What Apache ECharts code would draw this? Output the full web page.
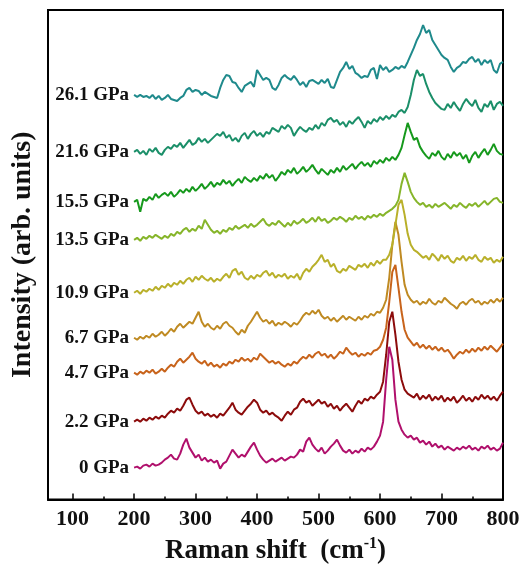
<!DOCTYPE html>
<html>
<head>
    <meta charset="UTF-8">
    <title>Raman spectra under pressure</title>
    <script src="https://cdn.jsdelivr.net/npm/echarts@6/dist/echarts.min.js"></script>
    <style>
        html, body { margin: 0; padding: 0; background: #fff; }
        #chart { width: 531px; height: 570px; }
    </style>
</head>
<body>
<div id="chart"></div>
<script>
    // Raman shift grid, 200 - 800 cm-1, 5 cm-1 step
    const shift = Array.from({ length: 121 }, (_, i) => 200 + 5 * i);

    // stacked spectra (arb. units, offsets included)
    const p0 = [32,33,31,34,35,33,36,34,35,37, 40,42,45,41,40,46,55,61,52,47, 42,45,39,42,38,40,37,39,31,36,
        38,44,50,46,42,45,43,48,53,57, 50,44,40,37,39,41,38,40,42,39, 41,43,42,45,50,48,58,62,55,51,
        48,52,46,49,53,56,60,54,49,47, 50,46,49,47,51,48,52,50,53,58, 64,78,120,153,140,100,78,70,65,62,
        64,60,62,57,59,55,58,53,56,52, 54,50,53,51,49,52,50,53,51,54, 50,52,49,53,51,54,50,52,49,51, 57];
    const p22 = [78,80,78,81,79,82,80,83,81,84, 82,86,89,87,91,89,94,100,102,95, 89,86,88,84,86,83,85,82,86,84,
        88,92,97,90,87,85,89,93,96,100, 97,90,87,89,85,87,84,82,79,84, 88,85,90,92,98,101,97,99,94,97,
        100,96,98,93,96,91,94,89,93,96, 92,88,94,99,96,101,99,103,101,105, 108,118,145,178,188,165,138,120,110,106,
        104,102,106,100,104,101,105,99,103,100, 104,98,102,99,103,97,100,104,99,102, 98,103,100,105,101,104,100,103,99,104, 108];
    const p47 = [127,125,128,126,129,127,130,126,128,131, 128,132,135,133,138,141,137,140,143,147, 141,138,136,139,134,137,133,135,132,136,
        134,138,136,140,138,142,139,141,138,142, 140,146,143,140,137,139,136,138,135,133, 136,134,138,136,140,143,141,145,142,146,
        148,144,146,142,145,141,144,148,146,152, 148,145,147,143,146,144,147,145,149,150, 153,160,172,198,228,235,212,188,170,162,
        158,154,157,152,155,151,154,150,153,149, 152,148,150,146,141,145,148,146,150,147, 151,148,152,149,153,150,154,151,148,152, 156];
    const p67 = [162,160,163,161,164,162,166,163,165,168, 164,167,171,168,173,176,172,175,178,176, 182,188,178,173,176,172,170,174,171,176,
        178,174,172,168,165,170,167,174,178,183, 188,182,178,180,176,179,174,177,175,178, 176,173,177,175,179,184,187,185,189,186,
        190,184,181,183,179,182,178,181,184,180, 183,181,179,183,180,184,182,186,184,188, 187,192,200,222,255,278,265,238,215,205,
        200,197,199,195,198,196,201,197,195,199, 197,202,199,196,194,191,196,198,195,199, 201,197,199,195,198,196,200,197,201,198, 202];
    const p109 = [207,209,206,210,208,211,209,213,210,214, 212,216,213,217,215,219,216,220,222,218, 223,220,224,221,219,222,218,221,219,223,
        226,222,229,231,225,228,222,220,224,221, 225,223,227,229,224,227,222,225,223,226, 221,224,222,226,220,227,231,228,233,236,
        240,245,238,240,233,236,229,227,231,229, 234,232,230,235,233,236,232,237,234,239, 236,240,240,245,255,275,295,300,285,266,
        255,250,248,245,242,244,240,246,243,239, 245,241,244,239,237,242,240,244,239,243, 241,245,240,238,243,240,242,237,240,238, 243];
    const p135 = [260,262,259,263,261,264,262,265,263,261, 264,262,266,264,268,266,270,272,268,271, 269,274,271,280,275,270,267,269,266,270,
        268,272,270,274,271,273,275,272,276,273, 275,278,281,276,274,277,275,279,276,273, 277,274,279,276,278,281,277,279,282,278,
        283,279,281,277,279,282,280,283,281,278, 282,280,284,281,283,280,284,282,285,283, 286,284,287,289,291,294,300,316,327,318,
        308,302,298,295,297,293,295,292,296,293, 295,297,294,291,295,293,297,294,292,296, 294,297,293,296,299,295,298,301,302,298, 297];
    const p155 = [298,300,288,301,299,303,300,306,302,305, 307,304,308,303,306,310,307,311,308,313, 309,312,316,311,314,318,313,317,315,320,
        316,319,314,318,321,317,323,320,318,322, 319,324,321,326,322,325,319,323,328,325, 330,327,332,326,329,333,328,331,335,330,
        326,331,328,325,330,327,332,328,334,330, 333,336,331,335,338,334,337,333,339,336, 340,337,342,339,343,340,345,352,365,377,
        368,360,362,353,348,344,341,347,344,349, 343,340,346,342,348,344,347,341,345,337, 344,348,342,347,351,345,350,356,349,346, 345];
    const p216 = [348,350,346,349,345,351,348,352,347,345, 350,353,351,355,353,357,352,356,360,355, 357,362,358,361,357,360,363,366,364,368,
        362,365,359,362,358,364,367,361,366,369, 364,367,363,368,366,372,370,368,374,371, 375,372,364,369,373,370,368,372,370,375,
        371,377,374,380,382,378,380,375,378,373, 379,376,380,383,378,372,379,376,381,378, 383,380,384,381,385,383,388,390,387,393,
        405,420,430,424,426,416,408,402,397,394, 391,390,396,392,398,393,389,396,401,397, 394,400,392,388,396,393,399,390,396,398, 394];
    const p261 = [405,403,405,403,404,402,405,401,404,400, 402,405,401,400,399,402,404,410,412,408, 410,409,405,408,406,404,403,402,412,420,
        425,424,418,417,412,408,414,416,418,413, 430,425,420,422,420,412,410,415,422,425, 422,420,424,420,415,418,413,419,420,418,
        416,420,417,421,413,412,420,428,432,438, 431,434,427,425,422,424,423,430,432,421, 435,430,433,428,430,433,431,434,432,438,
        445,452,460,466,475,467,470,460,455,450, 445,442,440,433,428,432,434,438,437,441, 443,438,441,435,440,437,440,430,427,436, 438];

    const pressures = ['0 GPa', '2.2 GPa', '4.7 GPa', '6.7 GPa', '10.9 GPa', '13.5 GPa', '15.5 GPa', '21.6 GPa', '26.1 GPa'];
    const spectra = [p0, p22, p47, p67, p109, p135, p155, p216, p261];
    const colors = ['#b0106c', '#8c0c0c', '#c8641c', '#bf8a22', '#b9b02a', '#86b52a', '#16991c', '#1b8f69', '#1f8a8c'];

    const majorTicks = [100, 200, 300, 400, 500, 600, 700, 800];
    const minorTicks = [150, 250, 350, 450, 550, 650, 750];

    const serif = 'Liberation Serif, Times New Roman, serif';

    const series = spectra.map((vals, k) => ({
        type: 'line',
        name: pressures[k],
        showSymbol: false,
        symbol: 'none',
        lineStyle: { color: colors[k], width: 2 },
        data: shift.map((x, i) => [x, vals[i]]),
        // pressure label sits just left of the first point
        markPoint: {
            symbol: 'circle',
            symbolSize: 0,
            silent: true,
            data: [{ coord: [shift[0], vals[0]] }],
            label: {
                show: true,
                position: 'left',
                distance: 5,
                formatter: pressures[k],
                fontFamily: serif,
                fontWeight: 'bold',
                fontSize: 19,
                color: '#111'
            }
        }
    }));

    const chart = echarts.init(document.getElementById('chart'));
    chart.setOption({
        backgroundColor: '#fff',
        animation: false,
        grid: {
            left: 48, right: 28, top: 10, bottom: 70,
            show: true, borderColor: '#000', borderWidth: 2
        },
        xAxis: [{
            type: 'value',
            min: 60,
            max: 800,
            name: '{t|Raman shift  (cm}{s|-1}{t|)}',
            nameLocation: 'middle',
            nameGap: 33,
            nameTextStyle: {
                rich: {
                    t: { fontFamily: serif, fontWeight: 'bold', fontSize: 27, color: '#111', lineHeight: 32 },
                    s: { fontFamily: serif, fontWeight: 'bold', fontSize: 16, color: '#111', verticalAlign: 'top', lineHeight: 18 }
                }
            },
            axisLine: { show: true, onZero: false, lineStyle: { color: '#000', width: 2 } },
            axisTick: { show: true, inside: true, length: 6, customValues: majorTicks, lineStyle: { color: '#000', width: 1.5 } },
            axisLabel: {
                customValues: majorTicks,
                margin: 9,
                fontFamily: serif,
                fontWeight: 'bold',
                fontSize: 22,
                color: '#111'
            },
            splitLine: { show: false }
        }, {
            type: 'value',
            min: 60,
            max: 800,
            position: 'bottom',
            axisLine: { show: false },
            axisTick: { show: true, inside: true, length: 3, customValues: minorTicks, lineStyle: { color: '#000', width: 1.5 } },
            axisLabel: { show: false },
            splitLine: { show: false }
        }],
        yAxis: {
            type: 'value',
            min: 0,
            max: 490,
            name: 'Intensity (arb. units)',
            nameLocation: 'middle',
            nameGap: 11,
            nameTextStyle: { fontFamily: serif, fontWeight: 'bold', fontSize: 28, color: '#111' },
            axisLine: { show: true, onZero: false, lineStyle: { color: '#000', width: 2 } },
            axisTick: { show: false },
            axisLabel: { show: false },
            splitLine: { show: false }
        },
        series: series
    });
</script>
</body>
</html>
